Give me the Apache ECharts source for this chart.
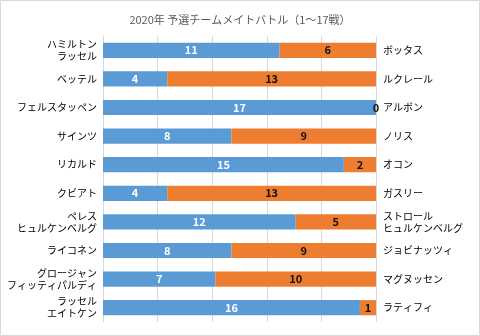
<!DOCTYPE html>
<html><head><meta charset="utf-8">
<script src="https://cdn.jsdelivr.net/npm/echarts@6/dist/echarts.min.js"></script>
<style>html,body{margin:0;padding:0;background:#fff}#c{width:480px;height:336px}</style>
</head><body><div id="c"></div>
<script>
const leftNames = ['ハミルトン\nラッセル','ベッテル','フェルスタッペン','サインツ','リカルド','クビアト','ペレス\nヒュルケンベルグ','ライコネン','グロージャン\nフィッティパルディ','ラッセル\nエイトケン'];
const rightNames = ['ボッタス','ルクレール','アルボン','ノリス','オコン','ガスリー','ストロール\nヒュルケンベルグ','ジョビナッツィ','マグヌッセン','ラティフィ'];
const leftWins = [11,4,17,8,15,4,12,8,7,16];
const rightWins = [6,13,0,9,2,13,5,9,10,1];

const chart = echarts.init(document.getElementById('c'), null, {renderer:'canvas'});
const font = '"Noto Sans CJK JP", sans-serif';
chart.setOption({
  animation:false,
  graphic:[{type:'rect', shape:{x:0.5, y:0.5, width:479, height:335}, style:{fill:'none', stroke:'#d9d9d9', lineWidth:1}, silent:true}],
  title:{text:'2020年 予選チームメイトバトル（1〜17戦）', left:'center', top:9,
    textStyle:{fontFamily:font, fontSize:11, fontWeight:'normal', color:'#595959'}},
  grid:{left:103, right:104, top:36, bottom:14},
  xAxis:{type:'value', min:0, max:17, interval:3.4,
    axisLabel:{show:false}, axisLine:{show:false}, axisTick:{show:false},
    splitLine:{show:true, lineStyle:{color:'#d9d9d9', width:1}}},
  yAxis:[
    {type:'category', data:leftNames, inverse:true, position:'left',
      axisLine:{show:true, lineStyle:{color:'#d9d9d9'}}, axisTick:{show:false},
      axisLabel:{fontFamily:font, fontSize:10, color:'#000', margin:6, lineHeight:12, align:'right'}},
    {type:'category', data:rightNames, inverse:true, position:'right',
      axisLine:{show:false}, axisTick:{show:false},
      axisLabel:{fontFamily:font, fontSize:10, color:'#000', margin:7, lineHeight:12, align:'left'}}
  ],
  series:[
    {type:'bar', stack:'a', data:leftWins, barCategoryGap:'47%', yAxisIndex:0,
      itemStyle:{color:'#5B9BD5'},
      label:{show:true, position:'inside', color:'#fff', fontWeight:'bold', fontSize:11, fontFamily:font}},
    {type:'bar', stack:'a', data:rightWins, barCategoryGap:'47%', yAxisIndex:0,
      itemStyle:{color:'#ED7D31'},
      label:{show:true, position:'inside', color:'#111', fontWeight:'bold', fontSize:11, fontFamily:font}}
  ]
});
</script></body></html>
